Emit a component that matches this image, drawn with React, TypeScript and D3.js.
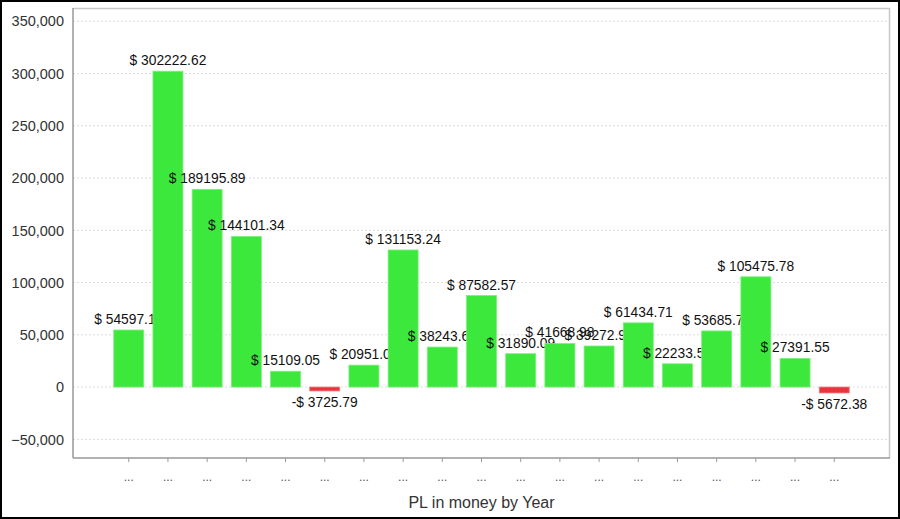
import React, { useEffect, useRef } from "react";
import * as d3 from "d3";

const categories = ["...", "...", "...", "...", "...", "...", "...", "...", "...", "...", "...", "...", "...", "...", "...", "...", "...", "...", "..."];
const values = [54597.15, 302222.62, 189195.89, 144101.34, 15109.05, -3725.79, 20951.04, 131153.24, 38243.61, 87582.57, 31890.09, 41668.98, 39272.95, 61434.71, 22233.52, 53685.74, 105475.78, 27391.55, -5672.38];
const yTicks = [-50000, 0, 50000, 100000, 150000, 200000, 250000, 300000, 350000];
const xTitle = "PL in money by Year";

const W = 900, H = 519;
const L = 73, R = 890, T = 8, B = 458;

export default function App() {
  const ref = useRef<SVGSVGElement>(null);
  useEffect(() => {
    const svg = d3.select(ref.current);
    svg.selectAll("*").remove();
    const font = "'Liberation Sans', Arial, sans-serif";
    svg.append("rect").attr("x", 1).attr("y", 1).attr("width", W - 2).attr("height", H - 2)
      .attr("fill", "#fff").attr("stroke", "#000").attr("stroke-width", 2);

    const x = d3.scaleBand<number>().domain(values.map((_, i) => i)).range([L, R])
      .paddingInner(0.235).paddingOuter(1.04);
    const y = d3.scaleLinear().domain([-67900, 362700]).range([B, T]);

    // grid
    svg.append("g").selectAll("line").data(yTicks).join("line")
      .attr("x1", L).attr("x2", R).attr("y1", d => y(d)).attr("y2", d => y(d))
      .attr("stroke", "#dcdcdc").attr("stroke-dasharray", "2,2").attr("stroke-width", 1);

    // plot border (top/right light)
    svg.append("path").attr("d", `M${L},${T + 0.5}H${R - 0.5}V${B}`)
      .attr("fill", "none").attr("stroke", "#c8c8c8").attr("stroke-width", 1.5);

    // y axis labels
    const fmt = d3.format(",");
    svg.append("g").selectAll("text").data(yTicks).join("text")
      .attr("x", L - 9).attr("y", d => y(d)).attr("dy", "0.36em")
      .attr("text-anchor", "end").attr("font-family", font).attr("font-size", 14.5)
      .attr("fill", "#333").text(d => fmt(d));

    // bars with labels in sequence
    const g = svg.append("g");
    values.forEach((v, i) => {
      const x0 = x(i)!;
      const bw = x.bandwidth();
      const y0 = y(Math.max(0, v));
      const y1 = y(Math.min(0, v));
      g.append("rect").attr("x", x0).attr("y", y0).attr("width", bw).attr("height", Math.max(1, y1 - y0))
        .attr("fill", v >= 0 ? "#3ce83c" : "#e8343c")
        .attr("stroke", v >= 0 ? "#7af07a" : "#f07a7a").attr("stroke-width", 0.8);
      const label = v >= 0 ? `$ ${v.toFixed(2)}` : `-$ ${Math.abs(v).toFixed(2)}`;
      g.append("text").attr("x", x0 + bw / 2).attr("y", v >= 0 ? y0 - 6 : y1 + 16)
        .attr("text-anchor", "middle").attr("font-family", font).attr("font-size", 13.8)
        .attr("fill", "#111").text(label);
    });

    // axes lines
    svg.append("line").attr("x1", L).attr("x2", L).attr("y1", T).attr("y2", B)
      .attr("stroke", "#999").attr("stroke-width", 1.5);
    svg.append("line").attr("x1", L).attr("x2", R).attr("y1", B).attr("y2", B)
      .attr("stroke", "#999").attr("stroke-width", 1.5);

    // x ticks
    svg.append("g").selectAll("line").data(values.map((_, i) => i)).join("line")
      .attr("x1", i => x(i)! + x.bandwidth() / 2).attr("x2", i => x(i)! + x.bandwidth() / 2)
      .attr("y1", B).attr("y2", B + 4).attr("stroke", "#999");
    svg.append("g").selectAll("text").data(categories).join("text")
      .attr("x", (_, i) => x(i)! + x.bandwidth() / 2).attr("y", 481)
      .attr("text-anchor", "middle").attr("font-family", font).attr("font-size", 12)
      .attr("fill", "#555").text(d => d);

    svg.append("text").attr("x", (L + R) / 2).attr("y", 508).attr("text-anchor", "middle")
      .attr("font-family", font).attr("font-size", 16).attr("fill", "#333").text(xTitle);
  }, []);
  return <svg ref={ref} width={W} height={H} style={{ position: "absolute", left: 0, top: 0 }} />;
}
